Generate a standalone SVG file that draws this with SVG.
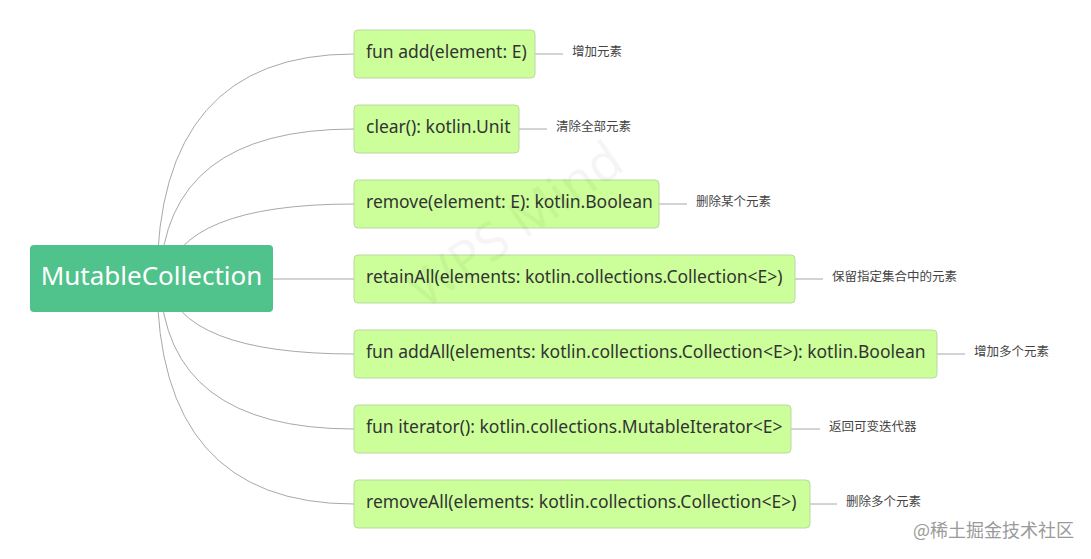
<svg xmlns="http://www.w3.org/2000/svg" width="1091" height="559" viewBox="0 0 1091 559">
<style>
.conn{fill:none;stroke:#a8a8a8;stroke-width:1}
.box{fill:#ccff99;stroke:#b9d9a0;stroke-width:1}
.t{font-family:"Noto Sans","Liberation Sans",sans-serif;font-size:17.5px;fill:#333}
.lbl{font-family:"Noto Sans CJK SC",sans-serif;font-size:12.5px;fill:#444}
.root{font-family:"Noto Sans","Liberation Sans",sans-serif;font-size:26px;fill:#fff}
</style>
<rect width="1091" height="559" fill="#fff"/>
<g id="connectors">
<path class="conn" d="M157,280 Q157,54 354,54"/>
<path class="conn" d="M160,280 Q165,129 354,129"/>
<path class="conn" d="M165,280 Q180,204 354,204"/>
<path class="conn" d="M273,279 L354,279"/>
<path class="conn" d="M165,280 Q180,354 354,354"/>
<path class="conn" d="M160,280 Q165,429 354,429"/>
<path class="conn" d="M157,280 Q157,504 354,504"/>
<path class="conn" d="M535,54 H563"/>
<path class="conn" d="M519,129 H547"/>
<path class="conn" d="M659,204 H687"/>
<path class="conn" d="M795,279 H823"/>
<path class="conn" d="M937,354 H965"/>
<path class="conn" d="M791,429 H820"/>
<path class="conn" d="M810,504 H837"/>
</g>
<g id="root">
<rect x="30" y="245" width="243" height="67" rx="4" fill="#50c28b"/>
<text class="root" x="151.5" y="285" text-anchor="middle">MutableCollection</text>
</g>
<g id="n1">
<rect class="box" x="354" y="30" width="181" height="48" rx="4"/>
<text class="t" x="366" y="58">fun add(element: E)</text>
<text class="lbl" x="572" y="56">增加元素</text>
</g>
<g id="n2">
<rect class="box" x="354" y="105" width="165" height="48" rx="4"/>
<text class="t" x="366" y="133">clear(): kotlin.Unit</text>
<text class="lbl" x="556" y="131">清除全部元素</text>
</g>
<g id="n3">
<rect class="box" x="354" y="180" width="305" height="48" rx="4"/>
<text class="t" x="366" y="208">remove(element: E): kotlin.Boolean</text>
<text class="lbl" x="696" y="206">删除某个元素</text>
</g>
<g id="n4">
<rect class="box" x="354" y="255" width="441" height="48" rx="4"/>
<text class="t" x="366" y="283">retainAll(elements: kotlin.collections.Collection&lt;E&gt;)</text>
<text class="lbl" x="832" y="281">保留指定集合中的元素</text>
</g>
<g id="n5">
<rect class="box" x="354" y="330" width="583" height="48" rx="4"/>
<text class="t" x="366" y="358">fun addAll(elements: kotlin.collections.Collection&lt;E&gt;): kotlin.Boolean</text>
<text class="lbl" x="974" y="356">增加多个元素</text>
</g>
<g id="n6">
<rect class="box" x="354" y="405" width="437" height="48" rx="4"/>
<text class="t" x="366" y="433">fun iterator(): kotlin.collections.MutableIterator&lt;E&gt;</text>
<text class="lbl" x="829" y="431">返回可变迭代器</text>
</g>
<g id="n7">
<rect class="box" x="354" y="480" width="456" height="48" rx="4"/>
<text class="t" x="366" y="508">removeAll(elements: kotlin.collections.Collection&lt;E&gt;)</text>
<text class="lbl" x="846" y="506">删除多个元素</text>
</g>
<g id="watermark">
<text x="0" y="0" transform="translate(425,310) rotate(-35)" font-family="'Noto Sans',sans-serif" font-size="52" fill="#000" fill-opacity="0.04">WPS Mind</text>
<text x="913" y="537" font-family="'Noto Sans CJK SC',sans-serif" font-size="18" fill="#9a9a9a">@稀土掘金技术社区</text>
</g>
</svg>
